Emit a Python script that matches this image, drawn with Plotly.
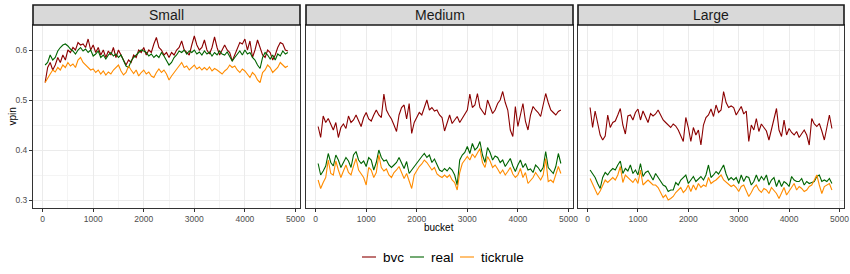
import plotly.graph_objects as go

# ---------------- data ----------------
buckets = list(range(50, 4851, 50))
panels = ["Small", "Medium", "Large"]
series_names = ["bvc", "real", "tickrule"]
series_colors = ["#8B0000", "#006400", "#FF8C00"]

small_bvc = [
    0.535, 0.565, 0.575, 0.560, 0.570, 0.585, 0.575, 0.590, 0.580, 0.600,
    0.595, 0.605, 0.600, 0.615, 0.610, 0.612, 0.605, 0.622, 0.600, 0.610,
    0.595, 0.605, 0.590, 0.600, 0.585, 0.598, 0.590, 0.605, 0.585, 0.600,
    0.590, 0.580, 0.570, 0.580, 0.575, 0.590, 0.585, 0.600, 0.595, 0.605,
    0.590, 0.600, 0.595, 0.612, 0.625, 0.605, 0.600, 0.590, 0.595, 0.585,
    0.595, 0.590, 0.600, 0.605, 0.618, 0.600, 0.595, 0.590, 0.610, 0.628,
    0.610, 0.600, 0.605, 0.620, 0.600, 0.592, 0.605, 0.626, 0.605, 0.590,
    0.600, 0.610, 0.600, 0.595, 0.578, 0.590, 0.600, 0.615, 0.612, 0.622,
    0.600, 0.618, 0.585, 0.600, 0.620, 0.605, 0.590, 0.585, 0.600, 0.595,
    0.580, 0.590, 0.605, 0.615, 0.612, 0.600, 0.598,
]
small_real = [
    0.570, 0.575, 0.590, 0.580, 0.585, 0.598, 0.605, 0.610, 0.612, 0.608,
    0.602, 0.598, 0.592, 0.600, 0.605, 0.598, 0.602, 0.595, 0.600, 0.588,
    0.592, 0.598, 0.585, 0.590, 0.582, 0.590, 0.595, 0.588, 0.592, 0.585,
    0.590, 0.578, 0.568, 0.565, 0.578, 0.585, 0.590, 0.595, 0.600, 0.598,
    0.595, 0.588, 0.592, 0.585, 0.590, 0.585, 0.595, 0.588, 0.580, 0.570,
    0.575, 0.585, 0.590, 0.598, 0.595, 0.600, 0.592, 0.598, 0.595, 0.600,
    0.592, 0.596, 0.590, 0.598, 0.592, 0.596, 0.588, 0.595, 0.590, 0.598,
    0.592, 0.590, 0.596, 0.588, 0.578, 0.585, 0.592, 0.598, 0.590, 0.600,
    0.592, 0.595, 0.585, 0.580, 0.570, 0.563, 0.585, 0.595, 0.590, 0.582,
    0.590, 0.580, 0.592, 0.588, 0.598, 0.592, 0.595,
]
small_tick = [
    0.535, 0.545, 0.552, 0.560, 0.556, 0.565, 0.560, 0.570, 0.565, 0.575,
    0.568, 0.572, 0.565, 0.580, 0.585, 0.575, 0.570, 0.565, 0.560, 0.562,
    0.555, 0.560, 0.552, 0.558, 0.550, 0.556, 0.552, 0.560, 0.565, 0.570,
    0.558, 0.550, 0.555, 0.568, 0.560, 0.553, 0.560, 0.548, 0.555, 0.560,
    0.552, 0.556, 0.548, 0.545, 0.555, 0.562, 0.555, 0.560, 0.552, 0.540,
    0.548, 0.555, 0.562, 0.568, 0.575, 0.565, 0.568, 0.560, 0.566, 0.570,
    0.562, 0.566, 0.560, 0.565, 0.560, 0.566, 0.558, 0.563, 0.560, 0.555,
    0.552, 0.558, 0.562, 0.570, 0.565, 0.568, 0.560, 0.555, 0.562, 0.558,
    0.552, 0.545, 0.555, 0.550, 0.540, 0.535, 0.555, 0.560, 0.570, 0.565,
    0.555, 0.560, 0.565, 0.575, 0.570, 0.565, 0.568,
]

medium_bvc = [
    0.447, 0.425, 0.468, 0.455, 0.463, 0.450, 0.440, 0.455, 0.425, 0.445,
    0.452, 0.443, 0.468, 0.455, 0.460, 0.470, 0.458, 0.447, 0.465, 0.475,
    0.462, 0.458, 0.470, 0.480, 0.470, 0.465, 0.512, 0.480, 0.470, 0.462,
    0.450, 0.437, 0.470, 0.485, 0.490, 0.462, 0.493, 0.433, 0.455, 0.465,
    0.475, 0.470, 0.485, 0.500, 0.480, 0.485, 0.478, 0.480, 0.470, 0.465,
    0.438, 0.455, 0.470, 0.453, 0.460, 0.467, 0.455, 0.463, 0.470, 0.480,
    0.512, 0.485, 0.490, 0.513, 0.485, 0.477, 0.470, 0.500, 0.485, 0.473,
    0.480, 0.493, 0.500, 0.517, 0.495, 0.480, 0.440, 0.427, 0.487, 0.447,
    0.470, 0.493, 0.457, 0.440, 0.470, 0.487, 0.480, 0.475, 0.467, 0.490,
    0.513, 0.495, 0.480, 0.475, 0.470, 0.477, 0.480,
]
medium_real = [
    0.373, 0.350, 0.358, 0.368, 0.393, 0.375, 0.368, 0.390, 0.380, 0.365,
    0.375, 0.385, 0.378, 0.365, 0.390, 0.397, 0.380, 0.373, 0.378, 0.367,
    0.385, 0.380, 0.360, 0.375, 0.400, 0.385, 0.378, 0.380, 0.370, 0.365,
    0.370, 0.375, 0.385, 0.372, 0.363, 0.377, 0.353, 0.360, 0.367, 0.375,
    0.380, 0.387, 0.393, 0.385, 0.390, 0.375, 0.382, 0.370, 0.360, 0.357,
    0.363, 0.358, 0.365, 0.360, 0.350, 0.330, 0.380, 0.390, 0.395, 0.407,
    0.393, 0.413, 0.400, 0.405, 0.417, 0.390, 0.375, 0.405, 0.395, 0.380,
    0.388, 0.385, 0.375, 0.380, 0.367, 0.375, 0.383, 0.368, 0.357, 0.370,
    0.380, 0.365, 0.373, 0.360, 0.362, 0.355, 0.370, 0.365, 0.357, 0.365,
    0.397, 0.365, 0.358, 0.353, 0.367, 0.393, 0.373,
]
medium_tick = [
    0.340, 0.323, 0.335, 0.345, 0.380, 0.353, 0.350, 0.378, 0.360, 0.345,
    0.358, 0.370, 0.355, 0.350, 0.368, 0.383, 0.360, 0.352, 0.345, 0.330,
    0.365, 0.360, 0.345, 0.355, 0.390, 0.365, 0.358, 0.362, 0.350, 0.345,
    0.355, 0.360, 0.367, 0.355, 0.343, 0.353, 0.337, 0.323, 0.350, 0.360,
    0.367, 0.372, 0.380, 0.375, 0.368, 0.360, 0.365, 0.352, 0.348, 0.345,
    0.350, 0.345, 0.350, 0.340, 0.335, 0.320, 0.355, 0.373, 0.380, 0.387,
    0.380, 0.392, 0.385, 0.395, 0.403, 0.375, 0.365, 0.387, 0.378, 0.365,
    0.370, 0.362, 0.353, 0.360, 0.350, 0.357, 0.365, 0.352, 0.345, 0.350,
    0.363, 0.345, 0.355, 0.333, 0.340, 0.345, 0.355, 0.348, 0.340, 0.350,
    0.383, 0.337, 0.340, 0.335, 0.350, 0.367, 0.353,
]

large_bvc = [
    0.485, 0.445, 0.478, 0.450, 0.430, 0.420, 0.428, 0.470, 0.445, 0.455,
    0.458, 0.470, 0.483, 0.450, 0.432, 0.468, 0.470, 0.460, 0.475, 0.482,
    0.460, 0.478, 0.465, 0.455, 0.473, 0.468, 0.472, 0.480, 0.470, 0.460,
    0.455, 0.450, 0.445, 0.452, 0.448, 0.440, 0.430, 0.417, 0.465, 0.445,
    0.417, 0.445, 0.430, 0.440, 0.410, 0.450, 0.465, 0.470, 0.482, 0.467,
    0.490, 0.475, 0.480, 0.517, 0.495, 0.485, 0.488, 0.485, 0.470, 0.480,
    0.487, 0.472, 0.478, 0.417, 0.450, 0.440, 0.463, 0.437, 0.452, 0.445,
    0.438, 0.420, 0.443, 0.465, 0.483, 0.440, 0.427, 0.460, 0.430, 0.443,
    0.435, 0.430, 0.437, 0.425, 0.433, 0.440, 0.430, 0.410, 0.463, 0.452,
    0.447, 0.453, 0.438, 0.420, 0.445, 0.470, 0.443,
]
large_real = [
    0.360, 0.352, 0.345, 0.333, 0.323, 0.345, 0.355, 0.350, 0.358, 0.363,
    0.360, 0.370, 0.378, 0.353, 0.363, 0.358, 0.370, 0.353, 0.360, 0.350,
    0.373, 0.347, 0.355, 0.358, 0.350, 0.340, 0.353, 0.345, 0.337, 0.330,
    0.327, 0.317, 0.320, 0.320, 0.335, 0.330, 0.340, 0.345, 0.350, 0.333,
    0.340, 0.347, 0.337, 0.343, 0.347, 0.340, 0.350, 0.370, 0.345, 0.350,
    0.357, 0.352, 0.360, 0.370, 0.352, 0.340, 0.345, 0.340, 0.345, 0.333,
    0.350, 0.337, 0.347, 0.345, 0.330, 0.337, 0.350, 0.337, 0.347, 0.340,
    0.350, 0.330, 0.340, 0.345, 0.327, 0.340, 0.327, 0.337, 0.333, 0.327,
    0.347, 0.340, 0.337, 0.337, 0.343, 0.330, 0.337, 0.333, 0.335, 0.337,
    0.347, 0.350, 0.337, 0.340, 0.337, 0.343, 0.333,
]
large_tick = [
    0.343, 0.333, 0.320, 0.310, 0.318, 0.330, 0.340, 0.335, 0.340, 0.345,
    0.340, 0.350, 0.367, 0.335, 0.350, 0.345, 0.338, 0.335, 0.343, 0.333,
    0.360, 0.330, 0.335, 0.340, 0.335, 0.330, 0.330, 0.325, 0.315, 0.305,
    0.310, 0.300, 0.303, 0.307, 0.315, 0.320, 0.325, 0.315, 0.320, 0.330,
    0.317, 0.330, 0.320, 0.333, 0.325, 0.330, 0.327, 0.345, 0.333, 0.337,
    0.340, 0.345, 0.350, 0.340, 0.335, 0.330, 0.327, 0.330, 0.325, 0.317,
    0.327, 0.330, 0.320, 0.307, 0.315, 0.325, 0.330, 0.320, 0.315, 0.323,
    0.320, 0.313, 0.325, 0.320, 0.313, 0.303, 0.315, 0.325, 0.310, 0.318,
    0.325, 0.333, 0.320, 0.327, 0.323, 0.317, 0.320, 0.327, 0.330, 0.340,
    0.350, 0.330, 0.313, 0.327, 0.330, 0.333, 0.320,
]

x_ticks = [0, 1000, 2000, 3000, 4000, 5000]
y_ticks = [0.3, 0.4, 0.5, 0.6]
y_tick_labels = ["0.3", "0.4", "0.5", "0.6"]

panel_data = {
    "Small": [small_bvc, small_real, small_tick],
    "Medium": [medium_bvc, medium_real, medium_tick],
    "Large": [large_bvc, large_real, large_tick],
}

# ---------------- layout geometry (pixels) ----------------
W, H = 850, 274
panel_px = [(33, 300), (306, 573), (578, 844)]
plot_top, plot_bot = 25, 208
strip_top = 5


def px_x(p):
    return p / W


def px_y(p):
    return 1 - p / H


FONT = "Liberation Sans, Arial, Helvetica, sans-serif"

fig = go.Figure()
for i, name in enumerate(panels):
    ax = "" if i == 0 else str(i + 1)
    for s, vals in enumerate(panel_data[name]):
        fig.add_trace(go.Scatter(
            x=buckets, y=vals, mode="lines",
            name=series_names[s], showlegend=False,
            line=dict(color=series_colors[s], width=1.1),
            xaxis="x" + ax, yaxis="y" + ax,
        ))

layout = dict(
    width=W, height=H,
    margin=dict(l=0, r=0, t=0, b=0, autoexpand=False),
    paper_bgcolor="white", plot_bgcolor="white",
    font=dict(family=FONT),
    showlegend=False,
)

axis_common = dict(
    showline=True, linecolor="#333333", linewidth=1, mirror=True,
    showgrid=True, gridcolor="#EBEBEB", gridwidth=1,
    zeroline=False, automargin=False,
    ticks="outside", ticklen=3, tickcolor="#333333", tickwidth=1,
    tickfont=dict(size=8.5, color="#4D4D4D", family=FONT),
)

for i in range(3):
    ax = "" if i == 0 else str(i + 1)
    x0, x1 = panel_px[i]
    layout["xaxis" + ax] = dict(
        axis_common,
        domain=[px_x(x0), px_x(x1)],
        range=[-190, 5090],
        tickvals=x_ticks,
        ticktext=[str(v) for v in x_ticks],
        anchor="y" + ax,
        minor=dict(showgrid=True, gridcolor="#F4F4F4", gridwidth=1, dtick=500, tick0=0),
    )
    layout["yaxis" + ax] = dict(
        axis_common,
        domain=[px_y(plot_bot), px_y(plot_top)],
        range=[0.284, 0.65],
        tickvals=y_ticks,
        ticktext=y_tick_labels if i == 0 else [""] * len(y_ticks),
        showticklabels=(i == 0),
        ticks="outside" if i == 0 else "",
        anchor="x" + ax,
        minor=dict(showgrid=True, gridcolor="#F4F4F4", gridwidth=1, dtick=0.05, tick0=0.25),
    )

shapes = []
annotations = []
for i, name in enumerate(panels):
    x0, x1 = panel_px[i]
    shapes.append(dict(
        type="rect", xref="paper", yref="paper",
        x0=px_x(x0), x1=px_x(x1), y0=px_y(plot_top), y1=px_y(strip_top),
        fillcolor="#D9D9D9", line=dict(color="#1A1A1A", width=1.6),
    ))
    annotations.append(dict(
        text=name, xref="paper", yref="paper",
        x=px_x((x0 + x1) / 2), y=px_y((plot_top + strip_top) / 2),
        xanchor="center", yanchor="middle", showarrow=False,
        font=dict(size=14, color="#1A1A1A", family=FONT),
    ))

# axis titles
annotations.append(dict(
    text="vpin", xref="paper", yref="paper",
    x=px_x(12), y=px_y((plot_top + plot_bot) / 2), textangle=-90,
    xanchor="center", yanchor="middle", showarrow=False,
    font=dict(size=10, color="black", family=FONT),
))
annotations.append(dict(
    text="bucket", xref="paper", yref="paper",
    x=px_x((panel_px[0][0] + panel_px[2][1]) / 2), y=px_y(227),
    xanchor="center", yanchor="middle", showarrow=False,
    font=dict(size=10, color="black", family=FONT),
))

# manual legend (ggplot-style short keys)
legend_y = 257
key_pos = [(362, 376, 381), (410, 424, 429), (460, 474, 479)]
for s, nm in enumerate(series_names):
    k0, k1, tx = key_pos[s]
    shapes.append(dict(
        type="line", xref="paper", yref="paper",
        x0=px_x(k0), x1=px_x(k1), y0=px_y(legend_y), y1=px_y(legend_y),
        line=dict(color=series_colors[s], width=1.1),
    ))
    annotations.append(dict(
        text=nm, xref="paper", yref="paper",
        x=px_x(tx), y=px_y(legend_y),
        xanchor="left", yanchor="middle", showarrow=False,
        font=dict(size=13.5, color="black", family=FONT),
    ))

layout["shapes"] = shapes
layout["annotations"] = annotations
fig.update_layout(**layout)

fig.write_html(
    "out.html",
    config={"displayModeBar": False, "staticPlot": True},
    post_script="document.body.style.margin='0';document.body.style.overflow='hidden';",
)
